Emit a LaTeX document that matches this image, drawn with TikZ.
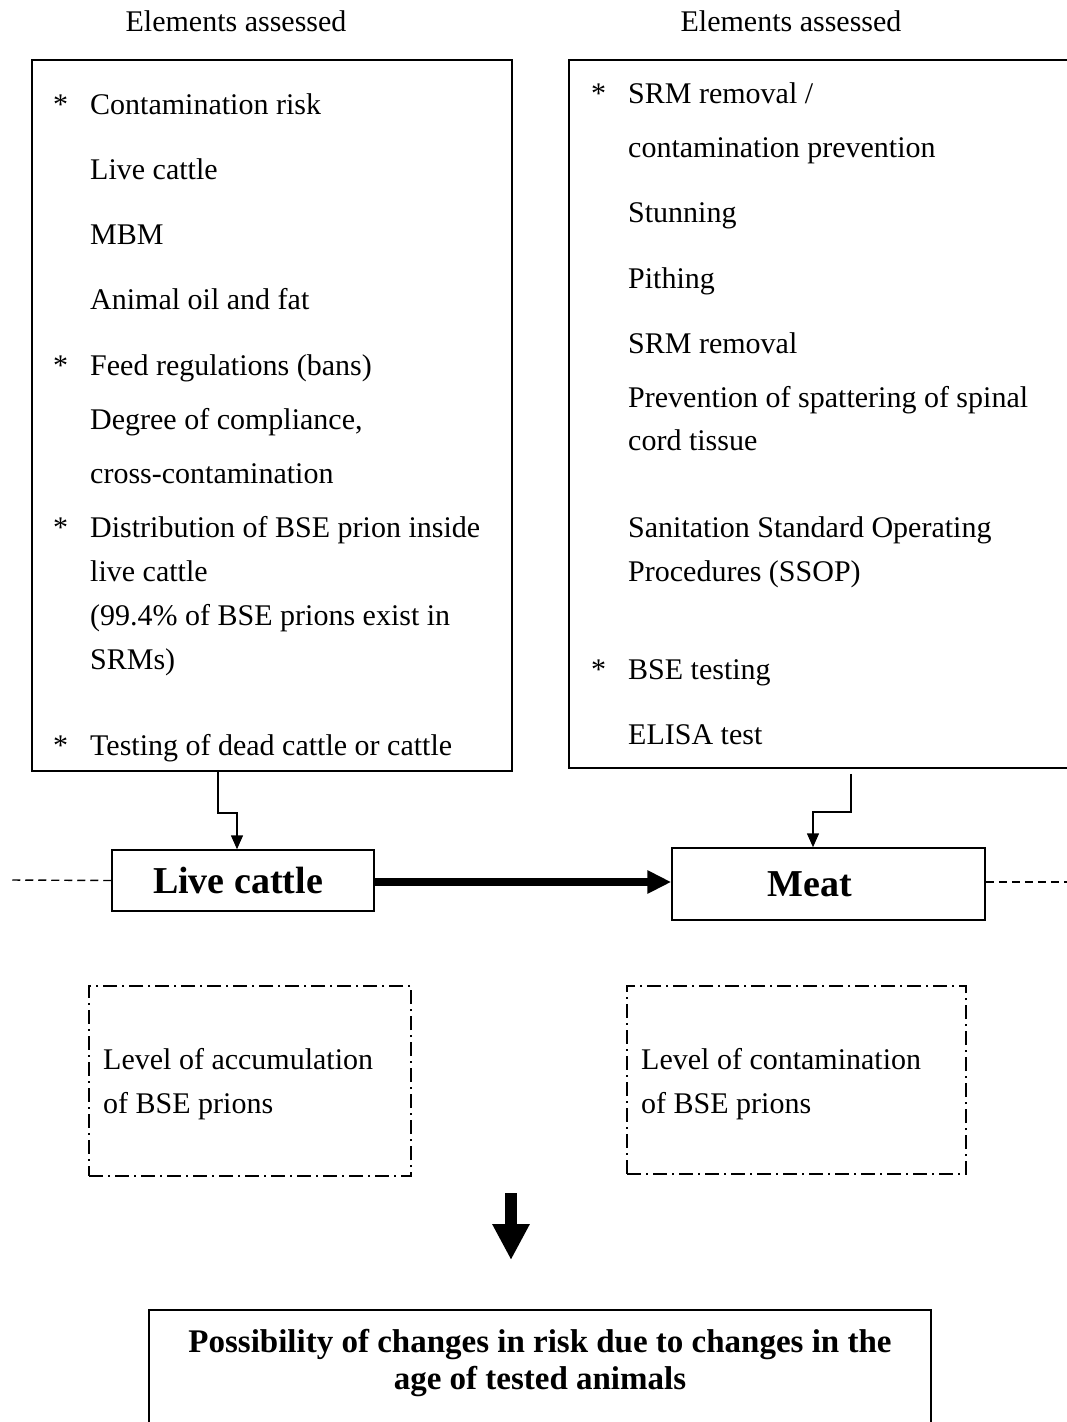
\documentclass[tikz,border=0pt]{standalone}
\usepackage{fontspec}
\setmainfont{Liberation Serif}
\usetikzlibrary{arrows.meta,calc}
\begin{document}
\begin{tikzpicture}[x=1pt,y=-1pt,
  txt/.style={anchor=base west,inner sep=0pt,font=\fontsize{30pt}{36pt}\selectfont},
  star/.style={anchor=base west,inner sep=0pt,font=\fontsize{30pt}{36pt}\selectfont},
  head/.style={anchor=base,inner sep=0pt,font=\fontsize{30pt}{36pt}\selectfont},
  bigbox/.style={draw,line width=1.5pt,inner sep=0pt},
  stage/.style={draw,line width=1.5pt,inner sep=0pt,font=\fontsize{38pt}{44pt}\selectfont\bfseries},
  ddbox/.style={draw,line width=1.5pt,inner sep=0pt,dash pattern=on 14pt off 5pt on 2pt off 5pt},
  conn/.style={line width=1.5pt,-{Triangle[length=14pt,width=12pt]}},
  side/.style={line width=1.4pt,dash pattern=on 8pt off 5pt}
]
\useasboundingbox (0,0) rectangle (1067,1422);
\fill[white] (0,0) rectangle (1067,1422);

% headings
\node[head] (hl) at (236,31) {Elements assessed};
\node[head] (hr) at (791,31) {Elements assessed};

% left box
\node[bigbox,minimum width=480pt,minimum height=711pt] (lbox) at (272,415.5) {};
\node[star] (ls1) at (53,114) {*};
\node[txt] (l1) at (90,114) {Contamination risk};
\node[txt] (l2) at (90,179) {Live cattle};
\node[txt] (l3) at (90,244) {MBM};
\node[txt] (l4) at (90,309) {Animal oil and fat};
\node[star] (ls2) at (53,375) {*};
\node[txt] (l5) at (90,375) {Feed regulations (bans)};
\node[txt] (l6) at (90,429) {Degree of compliance,};
\node[txt] (l7) at (90,483) {cross-contamination};
\node[star] (ls3) at (53,537) {*};
\node[txt] (l8) at (90,537) {Distribution of BSE prion inside};
\node[txt] (l9) at (90,581) {live cattle};
\node[txt] (l10) at (90,625) {(99.4\% of BSE prions exist in};
\node[txt] (l11) at (90,669) {SRMs)};
\node[star] (ls4) at (53,755) {*};
\node[txt] (l12) at (90,755) {Testing of dead cattle or cattle};

% right box
\node[bigbox,minimum width=520pt,minimum height=708pt] (rbox) at (829,414) {};
\node[star] (rs1) at (591,103) {*};
\node[txt] (r1) at (628,103) {SRM removal /};
\node[txt] (r2) at (628,157) {contamination prevention};
\node[txt] (r3) at (628,222) {Stunning};
\node[txt] (r4) at (628,288) {Pithing};
\node[txt] (r5) at (628,353) {SRM removal};
\node[txt] (r6) at (628,407) {Prevention of spattering of spinal};
\node[txt] (r7) at (628,450) {cord tissue};
\node[txt] (r8) at (628,537) {Sanitation Standard Operating};
\node[txt] (r9) at (628,581) {Procedures (SSOP)};
\node[star] (rs2) at (591,679) {*};
\node[txt] (r10) at (628,679) {BSE testing};
\node[txt] (r11) at (628,744) {ELISA test};

% stage boxes
\node[stage,minimum width=262pt,minimum height=61pt] (live) at (243,880.5) {\raisebox{-3pt}{\hspace*{-10pt}Live cattle}};
\node[stage,minimum width=313pt,minimum height=72pt] (meat) at (828.5,884) {\raisebox{-1pt}{\hspace*{-37pt}Meat}};

% connectors from boxes
\draw[conn] ($(lbox.south)+(-54,0)$) -- ++(0,41) -| ($(live.north)+(-6,0)$);
\draw[conn] ($(rbox.south)+(22,5)$) -- ++(0,38) -| ($(meat.north)+(-15.5,0)$);

% main arrow
\draw[line width=8pt,-{Triangle[length=24pt,width=22pt]}] ($(live.east)+(0,1.5)$) -- ($(meat.west)+(0,-2)$);

% side dashed lines
\coordinate (lend) at (10,880);
\coordinate (rend) at (1067,882);
\draw[side] (live.west) -- (lend);
\draw[side] (meat.east |- rend) -- (rend);

% dash-dot boxes
\node[ddbox,minimum width=322pt,minimum height=190pt] (acc) at (250,1081) {};
\node[txt] (a1) at (103,1069) {Level of accumulation};
\node[txt] (a2) at (103,1113) {of BSE prions};
\node[ddbox,minimum width=339pt,minimum height=188pt] (con) at (796.5,1080) {};
\node[txt] (c1) at (641,1069) {Level of contamination};
\node[txt] (c2) at (641,1113) {of BSE prions};

% down arrow
\coordinate (dtop) at (511,1193);
\coordinate (dtip) at (511,1260);
\draw[line width=12pt,-{Triangle[length=36pt,width=35pt]}] (dtop) -- (dtip);

% bottom box
\node[bigbox,minimum width=782pt,minimum height=140pt] (poss) at (540,1380) {};
\node[inner sep=0pt,align=center,font=\fontsize{33pt}{37pt}\selectfont\bfseries] (ptxt) at (540,1363) {Possibility of changes in risk due to changes in the\\age of tested animals};
\end{tikzpicture}
\end{document}
